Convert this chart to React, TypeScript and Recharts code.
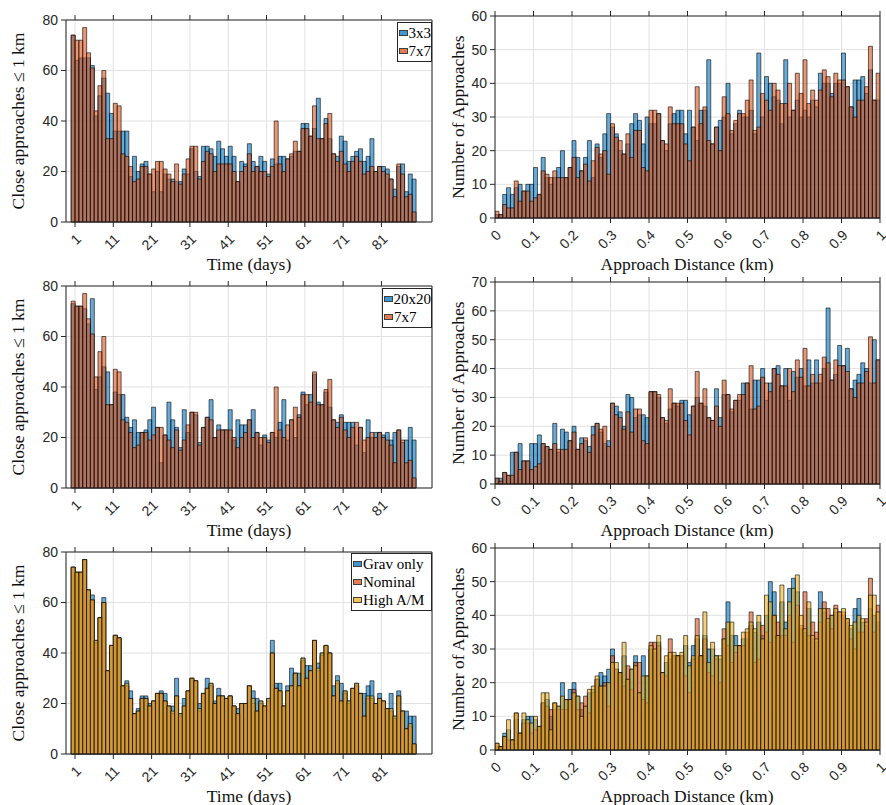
import React from "react";
import { BarChart, Bar, XAxis, YAxis, CartesianGrid } from "recharts";

// MATLAB default colours, drawn at FaceAlpha 0.6
const BLUE = "#0072BD";
const ORANGE = "#D95319";
const YELLOW = "#EDB120";
const INK = "#262626";
const SERIF = '"Liberation Serif", "Times New Roman", serif';
const SANS = '"Liberation Sans", Arial, sans-serif';

// day bins 0-1, 1-2, ... 89-90 (bar centres)
const DAY_BINS = Array.from({ length: 90 }, (_, i) => i + 0.5);
const DAY_TICKS = [1, 11, 21, 31, 41, 51, 61, 71, 81];
// distance bins of 0.01 km
const DIST_BINS = Array.from({ length: 100 }, (_, i) => (i + 0.5) / 100);
const DIST_TICKS = [0, 0.1, 0.2, 0.3, 0.4, 0.5, 0.6, 0.7, 0.8, 0.9, 1];

// close approaches <= 1 km per day
const CA_3X3 = [
  74, 64, 65, 65, 65, 62, 42, 50, 57, 51,
  43, 36, 36, 36, 36, 18, 26, 20, 23, 24,
  19, 12, 20, 12, 19, 17, 17, 16, 16, 21,
  19, 29, 20, 18, 30, 30, 29, 26, 32, 29,
  26, 30, 26, 16, 24, 23, 31, 24, 22, 26,
  24, 19, 25, 23, 26, 26, 25, 26, 28, 28,
  39, 39, 34, 37, 49, 33, 41, 33, 27, 26,
  34, 32, 24, 26, 28, 29, 24, 26, 33, 20,
  22, 22, 21, 17, 13, 22, 23, 12, 19, 17,
];
const CA_7X7 = [
  74, 72, 72, 77, 67, 61, 44, 54, 60, 33,
  33, 47, 46, 27, 26, 22, 16, 17, 22, 22,
  19, 21, 24, 24, 21, 19, 16, 23, 15, 19,
  25, 30, 30, 17, 24, 28, 27, 20, 23, 23,
  23, 23, 20, 16, 20, 22, 27, 20, 22, 20,
  20, 18, 22, 40, 23, 20, 25, 27, 32, 28,
  37, 37, 34, 46, 33, 33, 39, 43, 27, 24,
  28, 23, 20, 24, 26, 24, 19, 20, 22, 20,
  22, 20, 19, 17, 10, 23, 19, 10, 11, 4,
];
const CA_20X20 = [
  73, 72, 72, 71, 65, 75, 39, 44, 48, 46,
  33, 38, 37, 37, 28, 24, 27, 22, 22, 23,
  27, 32, 24, 10, 21, 34, 27, 24, 16, 31,
  22, 30, 29, 18, 24, 28, 35, 20, 25, 23,
  23, 31, 19, 27, 25, 25, 27, 31, 22, 17,
  21, 19, 22, 20, 26, 35, 19, 27, 20, 29,
  38, 33, 37, 45, 34, 33, 38, 32, 27, 26,
  29, 26, 26, 26, 17, 24, 14, 27, 20, 22,
  22, 21, 22, 19, 22, 23, 18, 19, 24, 19,
];
const CA_GRAV = [
  74, 72, 72, 77, 65, 63, 45, 54, 62, 33,
  43, 47, 46, 27, 29, 25, 16, 18, 23, 23,
  20, 21, 24, 25, 24, 19, 19, 30, 16, 22,
  25, 30, 29, 20, 24, 30, 28, 21, 26, 23,
  22, 23, 19, 18, 20, 20, 27, 25, 22, 21,
  19, 22, 45, 28, 28, 19, 27, 34, 32, 32,
  38, 35, 35, 45, 36, 40, 43, 40, 27, 31,
  28, 25, 21, 26, 28, 24, 24, 27, 29, 20,
  24, 21, 18, 24, 15, 25, 17, 17, 15, 15,
];
const CA_NOMINAL = [
  74, 72, 72, 77, 65, 61, 44, 54, 60, 33,
  43, 47, 46, 27, 27, 22, 16, 17, 22, 22,
  19, 21, 24, 24, 21, 19, 16, 23, 15, 19,
  25, 30, 29, 17, 24, 26, 27, 20, 23, 23,
  22, 23, 19, 16, 20, 20, 27, 20, 17, 20,
  19, 21, 40, 26, 25, 19, 25, 27, 32, 27,
  37, 30, 33, 45, 33, 39, 43, 40, 23, 28,
  21, 24, 20, 26, 27, 24, 15, 22, 22, 20,
  22, 21, 18, 17, 14, 23, 17, 10, 11, 4,
];
const CA_HIGH_AM = [
  74, 72, 72, 77, 65, 61, 45, 54, 60, 33,
  43, 47, 46, 27, 28, 22, 16, 17, 22, 22,
  19, 21, 24, 24, 21, 19, 17, 23, 16, 19,
  25, 30, 29, 18, 24, 26, 28, 20, 23, 23,
  22, 23, 19, 16, 20, 20, 27, 22, 17, 21,
  19, 22, 40, 26, 25, 19, 25, 27, 32, 27,
  38, 30, 33, 45, 34, 40, 43, 40, 23, 29,
  21, 25, 21, 26, 28, 24, 15, 23, 23, 20,
  22, 21, 18, 18, 15, 23, 17, 10, 12, 4,
];

// number of approaches per 0.01 km distance bin
const DIST_3X3 = [
  1, 1, 7, 9, 7, 9, 10, 8, 10, 10,
  15, 7, 18, 12, 10, 12, 15, 20, 12, 15,
  23, 18, 14, 18, 23, 12, 22, 18, 25, 31,
  27, 25, 20, 19, 22, 28, 31, 29, 22, 30,
  28, 28, 31, 23, 20, 28, 31, 32, 32, 25,
  32, 27, 23, 32, 32, 47, 22, 27, 29, 30,
  40, 25, 28, 32, 30, 30, 32, 25, 49, 30,
  42, 40, 36, 35, 28, 47, 30, 32, 35, 30,
  32, 30, 35, 33, 43, 40, 40, 37, 40, 40,
  49, 39, 33, 41, 41, 42, 37, 44, 35, 35,
];
const DIST_7X7 = [
  2, 1, 4, 3, 3, 11, 5, 8, 8, 5,
  6, 7, 14, 13, 12, 14, 12, 12, 12, 15,
  18, 12, 14, 16, 11, 17, 21, 19, 20, 13,
  28, 24, 23, 19, 25, 18, 26, 26, 15, 14,
  32, 32, 31, 23, 22, 33, 28, 28, 28, 22,
  17, 27, 39, 28, 33, 23, 22, 27, 20, 36,
  31, 26, 29, 31, 31, 35, 41, 26, 27, 37,
  35, 32, 40, 38, 34, 34, 40, 32, 43, 37,
  47, 34, 38, 35, 38, 44, 42, 36, 43, 41,
  41, 39, 33, 30, 35, 35, 39, 51, 35, 43,
];
const DIST_20X20 = [
  2, 2, 4, 3, 11, 11, 14, 8, 8, 14,
  14, 17, 14, 13, 12, 21, 11, 19, 18, 15,
  20, 12, 16, 15, 13, 20, 21, 18, 14, 15,
  28, 27, 25, 20, 31, 30, 23, 24, 24, 23,
  32, 32, 30, 23, 21, 26, 28, 27, 29, 29,
  24, 27, 30, 28, 27, 23, 22, 33, 23, 31,
  31, 25, 29, 29, 35, 35, 26, 36, 36, 40,
  29, 35, 40, 41, 34, 40, 29, 39, 37, 40,
  34, 43, 35, 43, 35, 40, 61, 36, 38, 48,
  41, 47, 33, 36, 38, 42, 40, 35, 50, 43,
];
const DIST_GRAV = [
  1, 1, 5, 6, 3, 9, 5, 9, 10, 10,
  9, 7, 14, 15, 10, 12, 13, 20, 15, 18,
  20, 16, 12, 13, 17, 18, 21, 23, 22, 24,
  30, 24, 23, 28, 21, 24, 28, 17, 28, 22,
  30, 29, 32, 23, 26, 27, 28, 28, 28, 31,
  26, 31, 33, 28, 34, 30, 30, 28, 27, 33,
  44, 34, 34, 31, 33, 33, 37, 35, 38, 34,
  40, 50, 47, 34, 44, 38, 48, 51, 47, 36,
  35, 42, 33, 32, 47, 41, 38, 40, 41, 40,
  40, 38, 36, 42, 45, 38, 37, 42, 40, 38,
];
const DIST_HIGH_AM = [
  2, 1, 4, 9, 3, 11, 5, 11, 9, 8,
  10, 7, 17, 17, 6, 14, 13, 16, 15, 15,
  17, 16, 10, 13, 18, 19, 22, 19, 19, 20,
  26, 26, 23, 32, 21, 24, 25, 17, 22, 22,
  31, 30, 34, 23, 28, 29, 29, 28, 29, 34,
  25, 28, 34, 28, 41, 26, 32, 28, 28, 33,
  38, 38, 31, 31, 35, 36, 38, 36, 40, 33,
  46, 44, 40, 34, 49, 36, 44, 48, 52, 40,
  36, 44, 34, 33, 42, 42, 39, 40, 42, 41,
  42, 39, 37, 38, 40, 39, 38, 46, 46, 41,
];

const buildRows = (bins: number[], cols: number[][]) =>
  bins.map((x, i) => {
    const r: any = { x };
    cols.forEach((c, k) => (r["s" + k] = c[i]));
    return r;
  });

const fmtDist = (v: number) => (v === 0 ? "0" : v === 1 ? "1" : v.toFixed(1));
const blank = () => "";

function Panel({ x, y, w, h, padR, xDomain, xTicks, xFmt, yMax, yTicks, bins, cols, colors }: any) {
  const padL = 60, padT = 11, padB = 8, axisH = 40;
  const rows = buildRows(bins, cols);
  const common = { dataKey: "x", type: "number" as const, domain: xDomain, allowDataOverflow: true };
  return (
    <div style={{ position: "absolute", left: x - padL, top: y - padT - 1 }}>
      <BarChart
        width={w + padL + padR + 1}
        height={h + padT + 1 + axisH + padB}
        data={rows}
        margin={{ top: padT, right: padR, bottom: padB, left: 0 }}
        barCategoryGap={0}
        barGap={0}
      >
        <CartesianGrid xAxisId="x0" yAxisId="y0" stroke="#e2e2e2" />
        <XAxis
          xAxisId="x0"
          {...common}
          ticks={xTicks}
          tickFormatter={xFmt}
          interval={0}
          height={axisH}
          angle={-45}
          textAnchor="end"
          tickSize={5}
          tickMargin={6}
          stroke={INK}
          tick={{ fontSize: 14, fill: INK, fontFamily: SANS }}
        />
        <XAxis
          xAxisId="top"
          {...common}
          ticks={xTicks}
          orientation="top"
          height={1}
          interval={0}
          tickFormatter={blank}
          tickSize={5}
          stroke={INK}
        />
        <XAxis xAxisId="x1" {...common} hide />
        <XAxis xAxisId="x2" {...common} hide />
        <YAxis
          yAxisId="y0"
          domain={[0, yMax]}
          ticks={yTicks}
          interval={0}
          width={padL}
          tickSize={5}
          tickMargin={3}
          stroke={INK}
          tick={{ fontSize: 14, fill: INK, fontFamily: SANS }}
        />
        <YAxis
          yAxisId="right"
          orientation="right"
          domain={[0, yMax]}
          ticks={yTicks}
          interval={0}
          width={1}
          tickFormatter={blank}
          tickSize={5}
          stroke={INK}
        />
        {cols.map((_: number[], k: number) => (
          <Bar
            key={k}
            xAxisId={"x" + k}
            yAxisId="y0"
            dataKey={"s" + k}
            fill={colors[k]}
            fillOpacity={0.6}
            stroke="#000"
            strokeWidth={0.7}
            strokeOpacity={0.85}
            isAnimationActive={false}
          />
        ))}
      </BarChart>
    </div>
  );
}

function LegendBox({ x, y, w, items }: any) {
  return (
    <div
      style={{
        position: "absolute",
        left: x,
        top: y,
        width: w,
        border: `1px solid ${INK}`,
        background: "#fff",
        padding: "1px 0",
        fontFamily: SERIF,
        fontSize: 15,
        color: "#000",
        boxSizing: "border-box",
      }}
    >
      {items.map((it: any) => (
        <div key={it.label} style={{ display: "flex", alignItems: "center", height: 18, whiteSpace: "nowrap" }}>
          <span
            style={{
              display: "inline-block",
              width: 7,
              height: 4,
              marginLeft: 1,
              marginRight: 1,
              background: it.color,
              opacity: 0.75,
              border: "1px solid #000",
            }}
          />
          <span>{it.label}</span>
        </div>
      ))}
    </div>
  );
}

const Title = ({ x, y, text, rotate }: any) => (
  <div
    style={{
      position: "absolute",
      left: x,
      top: y,
      transform: `translate(-50%, -50%)${rotate ? " rotate(-90deg)" : ""}`,
      fontFamily: SERIF,
      fontSize: 17.5,
      color: "#111",
      whiteSpace: "nowrap",
    }}
  >
    {text}
  </div>
);

const LEFT = { x: 66, w: 366, h: 202, padR: 12, xDomain: [-1.35, 94.2], xTicks: DAY_TICKS, xFmt: (v: number) => String(v), yMax: 80, yTicks: [0, 20, 40, 60, 80], bins: DAY_BINS };
const RIGHT = { x: 495, w: 385, h: 202, padR: 5, xDomain: [0, 1], xTicks: DIST_TICKS, xFmt: fmtDist, bins: DIST_BINS };

export default function App() {
  return (
    <div style={{ position: "absolute", left: 0, top: 0, width: 886, height: 805, background: "#fff", overflow: "hidden" }}>
      <Panel {...LEFT} y={20} cols={[CA_3X3, CA_7X7]} colors={[BLUE, ORANGE]} />
      <Panel {...LEFT} y={286} cols={[CA_20X20, CA_7X7]} colors={[BLUE, ORANGE]} />
      <Panel {...LEFT} y={552} cols={[CA_GRAV, CA_NOMINAL, CA_HIGH_AM]} colors={[BLUE, ORANGE, YELLOW]} />
      <Panel {...RIGHT} y={16} yMax={60} yTicks={[0, 10, 20, 30, 40, 50, 60]} cols={[DIST_3X3, DIST_7X7]} colors={[BLUE, ORANGE]} />
      <Panel {...RIGHT} y={282} yMax={70} yTicks={[0, 10, 20, 30, 40, 50, 60, 70]} cols={[DIST_20X20, DIST_7X7]} colors={[BLUE, ORANGE]} />
      <Panel {...RIGHT} y={548} yMax={60} yTicks={[0, 10, 20, 30, 40, 50, 60]} cols={[DIST_GRAV, DIST_7X7, DIST_HIGH_AM]} colors={[BLUE, ORANGE, YELLOW]} />

      <LegendBox x={397} y={22} w={35} items={[{ label: "3x3", color: BLUE }, { label: "7x7", color: ORANGE }]} />
      <LegendBox x={382} y={288} w={50} items={[{ label: "20x20", color: BLUE }, { label: "7x7", color: ORANGE }]} />
      <LegendBox
        x={351}
        y={553}
        w={81}
        items={[{ label: "Grav only", color: BLUE }, { label: "Nominal", color: ORANGE }, { label: "High A/M", color: YELLOW }]}
      />

      <Title x={249} y={264} text="Time (days)" />
      <Title x={249} y={530} text="Time (days)" />
      <Title x={249} y={796} text="Time (days)" />
      <Title x={687} y={264} text="Approach Distance (km)" />
      <Title x={687} y={530} text="Approach Distance (km)" />
      <Title x={687} y={796} text="Approach Distance (km)" />
      <Title x={18} y={121} text="Close approaches ≤ 1 km" rotate />
      <Title x={18} y={387} text="Close approaches ≤ 1 km" rotate />
      <Title x={18} y={653} text="Close approaches ≤ 1 km" rotate />
      <Title x={458} y={117} text="Number of Approaches" rotate />
      <Title x={458} y={383} text="Number of Approaches" rotate />
      <Title x={458} y={649} text="Number of Approaches" rotate />
    </div>
  );
}
